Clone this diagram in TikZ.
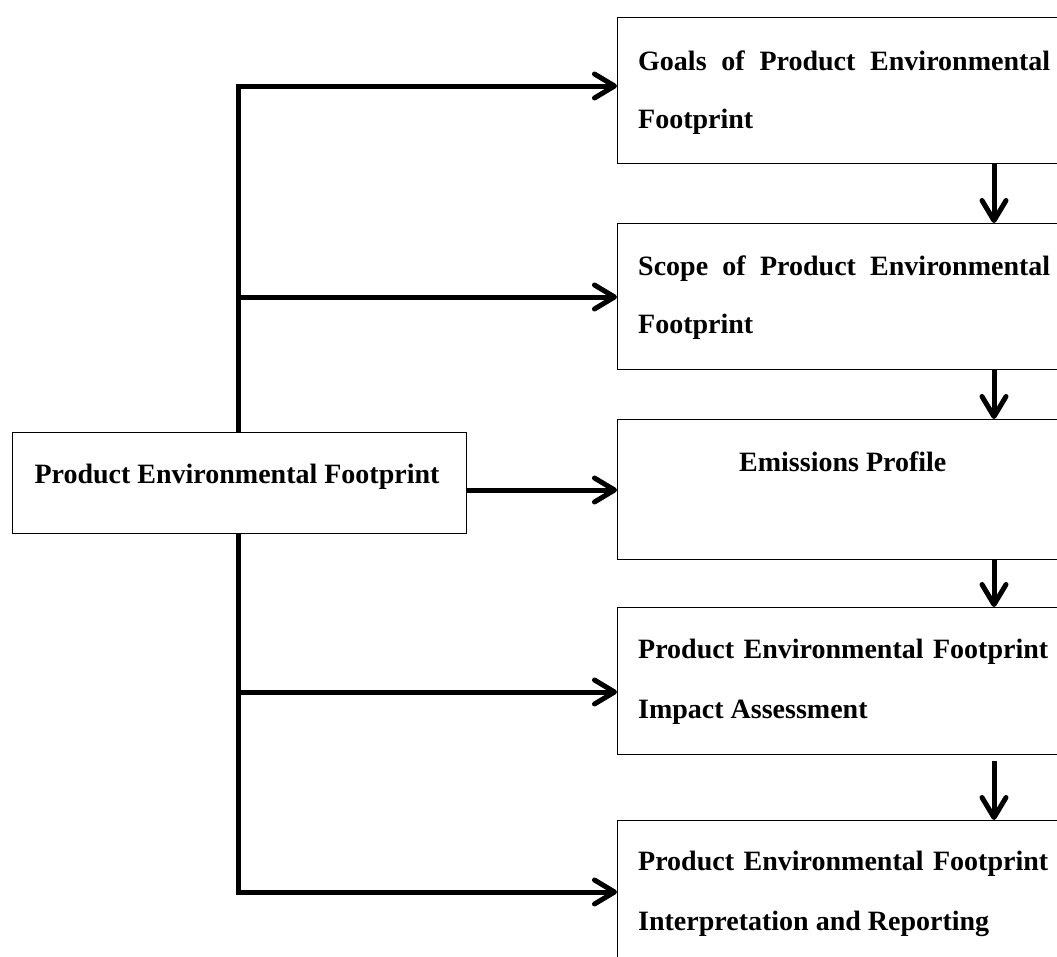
\documentclass[tikz,border=0pt]{standalone}
\usepackage{fontspec}
\setmainfont{Liberation Serif}
\usetikzlibrary{arrows.meta}
\tikzset{
  box/.style={draw, line width=1.4pt, rectangle, minimum width=453pt, minimum height=#1, anchor=north west, inner sep=0pt},
  lbl/.style={anchor=base west, inner sep=0pt, font=\fontsize{28}{34}\selectfont\bfseries},
  conn/.style={line width=5pt, -{Straight Barb[length=20pt,width=24pt,round]}},
}
\begin{document}
\begin{tikzpicture}[x=1pt,y=-1pt]
\useasboundingbox (0,0) rectangle (1057,956);
\clip (0,0) rectangle (1057,956);
\fill[white] (0,0) rectangle (1057,956);
% boxes
\node[box=146pt] (b1) at (617,17) {};
\node[box=146pt] (b2) at (617,223) {};
\node[box=140pt] (b3) at (617,419) {};
\node[box=147pt] (b4) at (617,607) {};
\node[box=160pt] (b5) at (617,820) {};
\node[draw, line width=1.4pt, rectangle, minimum width=454pt, minimum height=101pt, inner sep=0pt, anchor=north west] (pef) at (12,432) {};
% texts
\node[lbl] (t1a) at (638,70) {\makebox[412pt][s]{Goals of Product Environmental}};
\node[lbl] (t1b) at (638,128) {Footprint};
\node[lbl] (t2a) at (638,275) {\makebox[412pt][s]{Scope of Product Environmental}};
\node[lbl] (t2b) at (638,333) {Footprint};
\node[lbl] (t3) at (739,471) {Emissions Profile};
\node[lbl] (t4a) at (638,658) {\makebox[410pt][s]{Product Environmental Footprint}};
\node[lbl] (t4b) at (638,718) {Impact Assessment};
\node[lbl] (t5a) at (638,870) {\makebox[410pt][s]{Product Environmental Footprint}};
\node[lbl] (t5b) at (638,930) {Interpretation and Reporting};
\node[lbl, anchor=base] (t0) at (237,483) {Product Environmental Footprint};
% junction coordinates
\coordinate (j1) at (238,86);
\coordinate (j2) at (238,297);
\coordinate (j3) at (466,490);
\coordinate (j4) at (238,692);
\coordinate (j5) at (238,892);
\coordinate (dx) at (994,0);
% connectors
\draw[conn] (pef.north -| j1) -- (j1) -- (j1 -| b1.west);
\draw[conn] (j2) -- (j2 -| b2.west);
\draw[conn] (pef.east |- j3) -- (j3 -| b3.west);
\draw[conn] (pef.south -| j5) -- (j5) -- (j5 -| b5.west);
\draw[conn] (j4) -- (j4 -| b4.west);
\draw[conn] (b1.south -| dx) -- (b2.north -| dx);
\draw[conn] (b2.south -| dx) -- (b3.north -| dx);
\draw[conn] (b3.south -| dx) -- (b4.north -| dx);
\draw[conn] ([yshift=-6pt]b4.south -| dx) -- (b5.north -| dx);
\end{tikzpicture}
\end{document}
